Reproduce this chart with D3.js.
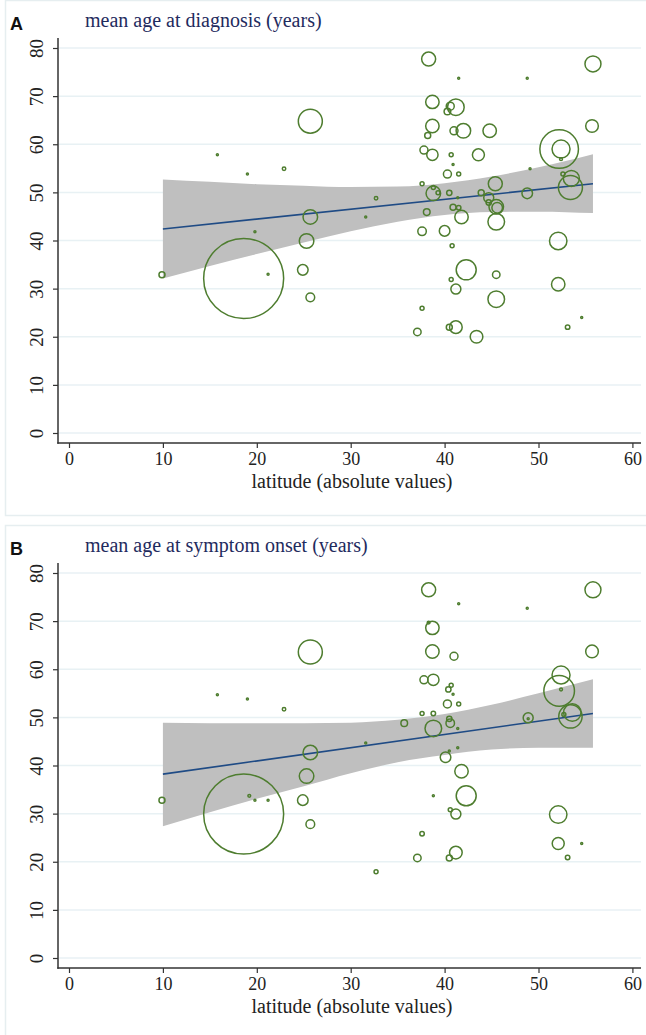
<!DOCTYPE html>
<html>
<head>
<meta charset="utf-8">
<script src="https://cdn.jsdelivr.net/npm/d3@7"></script>
<style>
body { margin: 0; background: #fff; }
text { font-family: "Liberation Serif", "Times New Roman", serif; }
</style>
</head>
<body>
<svg id="chart" width="646" height="1035"></svg>
<script>
// panel A : mean age at diagnosis
var latA = [25.7,15.8,19.0,22.9,32.7,31.6,25.7,19.8,25.3,9.9,18.6,21.2,24.9,25.7,
  38.3,55.8,41.5,48.8,38.7,41.2,40.6,40.3,38.7,38.2,42.0,41.0,44.8,55.7,52.2,52.4,52.4,
  37.8,38.7,40.7,43.6,40.9,40.3,41.5,49.1,52.6,53.5,53.4,37.6,38.8,38.8,39.3,40.5,41.4,
  45.4,43.9,44.7,48.8,40.9,41.5,38.1,41.8,45.5,45.6,44.7,45.5,37.6,40.0,52.1,40.8,42.3,
  45.5,40.7,41.2,52.1,45.5,37.6,54.6,37.1,40.5,41.2,53.1,43.4];
var ageA = [64.8,57.8,53.8,54.9,48.8,44.9,44.9,41.8,39.9,32.9,32.1,33.0,33.9,28.2,
  77.7,76.7,73.7,73.7,68.8,67.7,67.9,66.8,63.8,61.8,62.8,62.8,62.8,63.8,59.0,59.0,56.9,
  58.8,57.8,57.8,57.8,55.8,53.8,53.8,54.9,53.8,52.9,51.0,51.8,49.8,51.0,49.9,49.9,48.9,
  51.8,49.9,48.9,49.8,46.9,46.8,45.9,44.9,47.0,46.8,47.9,43.9,41.9,42.0,39.9,38.9,33.9,
  32.9,31.9,29.9,30.9,27.8,25.9,24.0,21.0,22.0,22.0,22.0,20.0];
var nA = [144,1,1,3,3,1,53,1,53,9,1600,1,28,19,
  49,64,1,1,45,69,16,11,45,9,53,16,45,40,372,81,2,
  16,32,4,36,1,16,4,1,4,64,144,4,53,4,4,7,1,
  49,9,25,28,9,5,11,45,53,28,7,69,18,28,76,4,100,
  14,4,25,45,69,4,1,14,9,40,5,40];

// panel B : mean age at symptom onset
var latB = [25.7,15.8,19.0,22.9,25.7,31.6,25.3,9.9,18.6,19.2,19.8,21.2,24.9,25.7,32.7,
  38.3,55.8,41.5,48.8,38.7,38.3,38.7,41.0,55.7,52.4,52.2,52.4,37.8,38.8,40.7,40.4,40.9,
  40.3,41.5,37.6,38.8,48.9,48.9,53.6,35.7,38.8,40.6,40.5,41.4,53.4,52.7,41.4,40.1,40.5,
  41.8,38.8,42.3,40.6,41.2,52.1,37.6,52.1,54.6,37.1,40.5,41.2,53.1];
var ageB = [63.6,54.7,53.8,51.7,42.7,44.7,37.8,32.8,29.9,33.7,32.8,32.8,32.8,27.8,17.9,
  76.5,76.5,73.6,72.7,68.6,69.7,63.7,62.7,63.7,58.8,55.5,55.8,57.8,57.8,56.7,55.8,54.8,
  52.8,52.8,50.8,50.8,49.9,49.7,51.0,48.8,47.7,48.8,49.7,47.7,50.2,50.6,43.7,41.7,43.0,
  38.8,33.7,33.7,30.8,29.9,29.8,25.8,23.8,23.8,20.8,20.8,21.9,20.9];
var nB = [144,1,1,3,53,1,53,9,1600,2,1,1,28,19,4,
  49,64,1,1,45,2,45,16,40,81,234,2,16,32,4,7,1,
  16,4,4,5,25,1,76,11,69,18,7,1,136,4,1,28,1,
  45,1,100,4,25,76,5,36,1,14,9,40,5];

// fitted line and 95% band
var bandLat = [10,15,20,25,30,35,40,45,50,55.8];
var upA = [52.7,52.2,51.7,51.4,51.1,51.2,51.9,53.3,55.2,57.9];
var loA = [32.1,34.7,37.2,39.6,41.9,43.9,45.3,45.9,46.0,45.7];
var upB = [48.9,48.8,48.8,48.8,48.9,49.5,50.7,52.6,55.0,57.9];
var loB = [27.4,30.3,33.1,35.7,38.4,40.7,42.2,43.3,43.7,43.7];
var fitLat = [10,55.8];
var fitA = [42.4,51.8];
var fitB = [38.2,50.8];

var xTicks = [0,10,20,30,40,50,60];
var yTicks = [0,10,20,30,40,50,60,70,80];

var svg = d3.select("#chart");
var green = "#4e7d2f";
var serif = "'Liberation Serif', 'Times New Roman', serif";

function drawPanel(top, letter, title, lat, age, n, lo, up, fit){
  var g = svg.append("g").attr("transform", "translate(0," + top + ")");

  g.append("rect")
    .attr("x", 5.5).attr("y", 0.5).attr("width", 645).attr("height", 515)
    .attr("fill", "#fff").attr("stroke", "#e6eef0").attr("stroke-width", 1.5);

  var x = d3.scaleLinear().domain([0, 60]).range([69, 632.4]);
  var y = d3.scaleLinear().domain([0, 80]).range([433, 48]);
  var r = d3.scaleSqrt().domain([0, 1600]).range([0, 40]);

  // grid
  g.selectAll(".grid").data(yTicks).enter().append("line")
    .attr("x1", 59).attr("x2", 641)
    .attr("y1", function(d){ return y(d); }).attr("y2", function(d){ return y(d); })
    .attr("stroke", "#e8f1f4").attr("stroke-width", 1.5);

  // confidence band
  var area = d3.area()
    .x(function(d, i){ return x(bandLat[i]); })
    .y0(function(d, i){ return y(lo[i]); })
    .y1(function(d, i){ return y(up[i]); })
    .curve(d3.curveMonotoneX);
  g.append("path").datum(bandLat).attr("d", area).attr("fill", "#bfbfbf");

  // fit line
  var line = d3.line()
    .x(function(d, i){ return x(fitLat[i]); })
    .y(function(d){ return y(d); });
  g.append("path").datum(fit).attr("d", line)
    .attr("fill", "none").attr("stroke", "#1f4b85").attr("stroke-width", 1.6);

  // weighted points
  g.selectAll(".dot").data(lat).enter().append("circle")
    .attr("cx", function(d){ return x(d); })
    .attr("cy", function(d, i){ return y(age[i]); })
    .attr("r", function(d, i){ return r(n[i]); })
    .attr("fill", "none").attr("stroke", green).attr("stroke-width", 1.5);

  // axes
  var yAxis = g.append("g").attr("transform", "translate(58,0)")
    .call(d3.axisLeft(y).tickValues(yTicks).tickSize(5).tickSizeOuter(0));
  yAxis.attr("font-family", serif);
  yAxis.select(".domain").remove();
  yAxis.selectAll("line").attr("stroke", "#333").attr("stroke-width", 1.2);
  yAxis.selectAll("text")
    .attr("x", 0).attr("dy", 0)
    .attr("transform", "translate(-15,0) rotate(-90)")
    .attr("text-anchor", "middle")
    .style("font-family", serif).style("font-size", "19px").attr("fill", "#222");

  var xAxis = g.append("g").attr("transform", "translate(0,443)")
    .call(d3.axisBottom(x).tickValues(xTicks).tickSize(5).tickSizeOuter(0));
  xAxis.attr("font-family", serif);
  xAxis.select(".domain").remove();
  xAxis.selectAll("line").attr("stroke", "#333").attr("stroke-width", 1.2);
  xAxis.selectAll("text")
    .attr("y", 0).attr("dy", 0).attr("transform", "translate(0,22)")
    .style("font-family", serif).style("font-size", "18px").attr("fill", "#222");

  g.append("line").attr("x1", 58).attr("x2", 58).attr("y1", 38).attr("y2", 443.7)
    .attr("stroke", "#333").attr("stroke-width", 1.5);
  g.append("line").attr("x1", 57.3).attr("x2", 641).attr("y1", 443).attr("y2", 443)
    .attr("stroke", "#333").attr("stroke-width", 1.5);

  g.append("text").attr("x", 352).attr("y", 488).attr("text-anchor", "middle")
    .style("font-family", serif).style("font-size", "20px").attr("fill", "#222")
    .text("latitude (absolute values)");

  g.append("text").attr("x", 85).attr("y", 27)
    .style("font-family", serif).style("font-size", "20px").attr("fill", "#1f2b5e")
    .text(title);

  g.append("text").attr("x", 10).attr("y", 30)
    .style("font-family", "'Liberation Sans', Arial, sans-serif").style("font-weight", "bold")
    .style("font-size", "18px").attr("fill", "#111")
    .text(letter);
}

drawPanel(0, "A", "mean age at diagnosis (years)", latA, ageA, nA, loA, upA, fitA);
drawPanel(525, "B", "mean age at symptom onset (years)", latB, ageB, nB, loB, upB, fitB);
</script>
</body>
</html>
